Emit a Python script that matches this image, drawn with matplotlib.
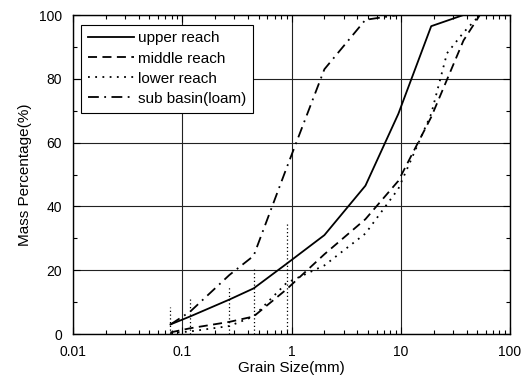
import matplotlib
matplotlib.use("Agg")
import matplotlib.pyplot as plt
from matplotlib.ticker import LogLocator, FixedLocator, NullFormatter

plt.rcParams['font.family'] = ['Liberation Sans', 'DejaVu Sans']

# grain size distribution (mm vs. % passing)
upper_x = [0.078, 0.118, 0.27, 0.45, 0.9, 2, 4.75, 9.5, 19, 37.5]
upper_y = [3, 5.5, 10.8, 14.3, 22, 31, 46.5, 69, 96.5, 100]

middle_x = [0.078, 0.118, 0.27, 0.45, 0.9, 2, 4.75, 9.5, 19, 37.5, 53]
middle_y = [0.5, 1.8, 3.8, 5.5, 14, 25, 36, 48, 68, 92, 100]

lower_x = [0.078, 0.118, 0.27, 0.45, 0.9, 2, 4.75, 9.5, 19, 26.5, 37.5, 53]
lower_y = [0.3, 0.8, 2.5, 5.5, 16, 21.5, 31.5, 45.5, 69, 88, 94.5, 100]

sub_x = [0.078, 0.118, 0.27, 0.45, 0.9, 2, 4.75, 9.5]
sub_y = [3, 7, 18.5, 24.5, 52, 83, 98.5, 100]

# dotted sieve markers
sieve_x = [0.078, 0.118, 0.27, 0.45, 0.9]
sieve_top = [8.6, 11.7, 14.8, 20.6, 35.2]

labels = ['upper reach', 'middle reach', 'lower reach', 'sub basin(loam)']

fig = plt.figure(figsize=(5.26, 3.78), dpi=100)
ax = fig.add_axes([0.1388, 0.1164, 0.8308, 0.8439])

ax.plot(upper_x, upper_y, color='black', lw=1.3, ls='-', label=labels[0])
ax.plot(middle_x, middle_y, color='black', lw=1.3, ls=(0, (5, 3)), label=labels[1])
ax.plot(lower_x, lower_y, color='black', lw=1.3, ls=(0, (1, 3)), label=labels[2])
ax.plot(sub_x, sub_y, color='black', lw=1.3, ls=(0, (6, 3, 1, 3)), label=labels[3])
ax.vlines(sieve_x, 0, sieve_top, colors='black', lw=0.9, linestyles=(0, (1, 2)))

ax.set_xscale('log')
ax.set_xlim(0.01, 100)
ax.set_ylim(0, 100)
ax.xaxis.set_minor_locator(LogLocator(base=10, subs=range(2, 10), numticks=50))
ax.xaxis.set_minor_formatter(NullFormatter())
ax.set_xticks([0.01, 0.1, 1, 10, 100])
ax.set_xticklabels(['0.01', '0.1', '1', '10', '100'])
ax.set_yticks([0, 20, 40, 60, 80, 100])
ax.yaxis.set_minor_locator(FixedLocator([10, 30, 50, 70, 90]))

ax.grid(True, which='major', color='#222222', lw=0.8)
ax.tick_params(which='both', direction='in', top=True, right=True, labelsize=10, width=0.8)
ax.tick_params(which='major', length=5)
ax.tick_params(which='minor', length=3)
ax.tick_params(axis='x', pad=8)
ax.tick_params(axis='y', pad=8)
for s in ax.spines.values():
    s.set_linewidth(1.0)

ax.set_xlabel('Grain Size(mm)', fontsize=11, labelpad=1)
ax.set_ylabel('Mass Percentage(%)', fontsize=11, labelpad=5)

leg = ax.legend(loc='upper left', bbox_to_anchor=(0.018, 0.97), borderaxespad=0,
                fontsize=11, frameon=True, fancybox=False, edgecolor='black',
                framealpha=1, handlelength=3.0, handletextpad=0.3, borderpad=0.45,
                labelspacing=0.4)
leg.get_frame().set_linewidth(0.8)

fig.savefig('out.png', dpi=100)
